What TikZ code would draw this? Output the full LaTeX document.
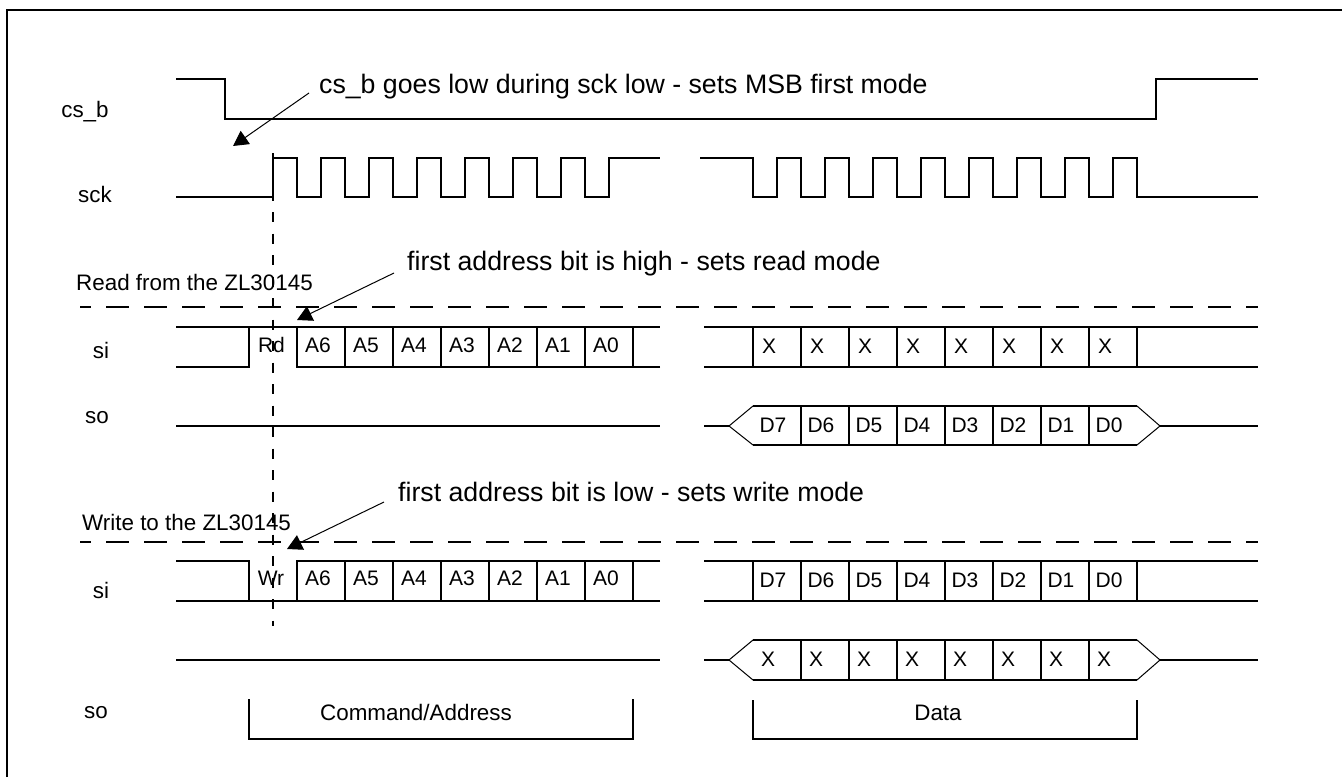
\documentclass[tikz,border=0pt]{standalone}
\usepackage{fontspec}
\setmainfont{Liberation Sans}
\usetikzlibrary{arrows.meta}
\tikzset{
  wave/.style={line width=1.9pt, color=black},
  slant/.style={line width=1pt, color=black},
  cut/.style={line width=1.9pt, dash pattern=on 23pt off 15pt, dash phase=12pt},
  drop/.style={line width=1.9pt, dash pattern=on 10pt off 11.5pt, dash phase=5.5pt},
  note/.style={anchor=west, inner sep=0pt, font=\fontsize{26.7}{30}\selectfont},
  lab/.style={inner sep=0pt, font=\fontsize{22.4}{26}\selectfont},
  cell/.style={inner sep=0pt, font=\fontsize{21}{24}\selectfont},
  pointer/.style={line width=1pt, -{Triangle[length=15pt,width=16pt]}}
}
\begin{document}
\begin{tikzpicture}[x=1pt, y=-1pt]
\useasboundingbox (0,0) rectangle (1342,777);
\draw [line width=2pt] (7,777) -- (7,10) -- (1342,10);
% cs_b and sck
\draw [wave] (176,79) -- (225,79) -- (225,119) -- (1156,119) -- (1156,79) -- (1258,79);
\draw [wave] (176,197) -- (273,197)
  \foreach \k in {0,...,6} {-- (273+48*\k,158) -- (297+48*\k,158) -- (297+48*\k,197) -- (321+48*\k,197)}
  -- (609,197) -- (609,158) -- (660,158);
\draw [wave] (700,158) -- (753,158)
  \foreach \k in {0,...,7} {-- (753+48*\k,197) -- (777+48*\k,197) -- (777+48*\k,158) -- (801+48*\k,158)}
  -- (1137,158) -- (1137,197) -- (1258,197);
% dashed lines
\draw [cut] (80,307) -- (1258,307);
\draw [cut] (80,542) -- (1258,542);
\draw [drop] (273,153) -- (273,626);
% read
\draw [wave] (176,327) -- (660,327);
\draw [wave] (176,367) -- (249,367) -- (249,327);
\draw [wave] (660,367) -- (297,367) -- (297,327);
\foreach \k in {1,...,7} \draw [wave] (297+48*\k,327) -- (297+48*\k,367);
\draw [wave] (704,327) -- (1258,327);
\draw [wave] (704,367) -- (1258,367);
\foreach \k in {0,...,8} \draw [wave] (753+48*\k,327) -- (753+48*\k,367);
\draw [wave] (176,426) -- (660,426);
\draw [wave] (753,406) -- (1137,406);
\draw [wave] (753,445) -- (1137,445);
\draw [wave] (704,426) -- (729,426);
\draw [slant] (753,406) -- (729,426) -- (753,445);
\draw [slant] (1137,406) -- (1160,426) -- (1137,445);
\draw [wave] (1160,426) -- (1258,426);
\foreach \k in {1,...,7} \draw [wave] (753+48*\k,406) -- (753+48*\k,445);
% write
\draw [wave] (176,561) -- (249,561) -- (249,601);
\draw [wave] (660,561) -- (297,561) -- (297,601);
\draw [wave] (176,601) -- (660,601);
\foreach \k in {1,...,7} \draw [wave] (297+48*\k,561) -- (297+48*\k,601);
\draw [wave] (704,561) -- (1258,561);
\draw [wave] (704,601) -- (1258,601);
\foreach \k in {0,...,8} \draw [wave] (753+48*\k,561) -- (753+48*\k,601);
\draw [wave] (176,660) -- (660,660);
\draw [wave] (753,640) -- (1137,640);
\draw [wave] (753,680) -- (1137,680);
\draw [wave] (704,660) -- (729,660);
\draw [slant] (753,640) -- (729,660) -- (753,680);
\draw [slant] (1137,640) -- (1160,660) -- (1137,680);
\draw [wave] (1160,660) -- (1258,660);
\foreach \k in {1,...,7} \draw [wave] (753+48*\k,640) -- (753+48*\k,680);
% brackets
\draw [wave] (249,699) -- (249,739) -- (633,739) -- (633,699);
\draw [wave] (753,700) -- (753,739) -- (1137,739) -- (1137,700);
% signal names
\node (csb) [lab] at (85,112) {cs\_b};
\node (sck) [lab] at (95,194) {sck};
\node (rdhead) [lab, anchor=west] at (76,282) {Read from the ZL30145};
\node (rdsi) [lab] at (101,350) {si};
\node (rdso) [lab] at (97,418) {so};
\node (wrhead) [lab, anchor=west] at (82,522) {Write to the ZL30145};
\node (wrsi) [lab] at (101,590) {si};
\node (wrso) [lab] at (96,713) {so};
% cell texts
\node (rdbit) [cell] at (271.5,345) {Rd};
\node (wrbit) [cell] at (271,578) {Wr};
\foreach \k/\t in {0/A6,1/A5,2/A4,3/A3,4/A2,5/A1,6/A0} {
  \node (rd\t) [cell] at (318+48*\k,345) {\t};
  \node (wr\t) [cell] at (318+48*\k,578) {\t};
}
\foreach \k/\t in {0/D7,1/D6,2/D5,3/D4,4/D3,5/D2,6/D1,7/D0} {
  \node (rdx\k) [cell] at (769+48*\k,346) {X};
  \node (rd\t) [cell] at (773+48*\k,425) {\t};
  \node (wr\t) [cell] at (773+48*\k,580) {\t};
  \node (wrx\k) [cell] at (768+48*\k,659) {X};
}
\node (cmdaddr) [lab] at (416,712) {Command/Address};
\node (data) [lab] at (938,713) {Data};
% notes
\node (csnote) [note] at (319,87) {cs\_b goes low during sck low - sets MSB first mode};
\node (rdnote) [note] at (407,264) {first address bit is high - sets read mode};
\node (wrnote) [note] at (398,492) {first address bit is low - sets write mode};
\coordinate (cstail) at (309,93);
\coordinate (cstip) at (233,146);
\coordinate (rdtail) at (394,273);
\coordinate (rdtip) at (297,320);
\coordinate (wrtail) at (384,502);
\coordinate (wrtip) at (287,549);
\draw [pointer] (cstail) -- (cstip);
\draw [pointer] (rdtail) -- (rdtip);
\draw [pointer] (wrtail) -- (wrtip);
\end{tikzpicture}
\end{document}
